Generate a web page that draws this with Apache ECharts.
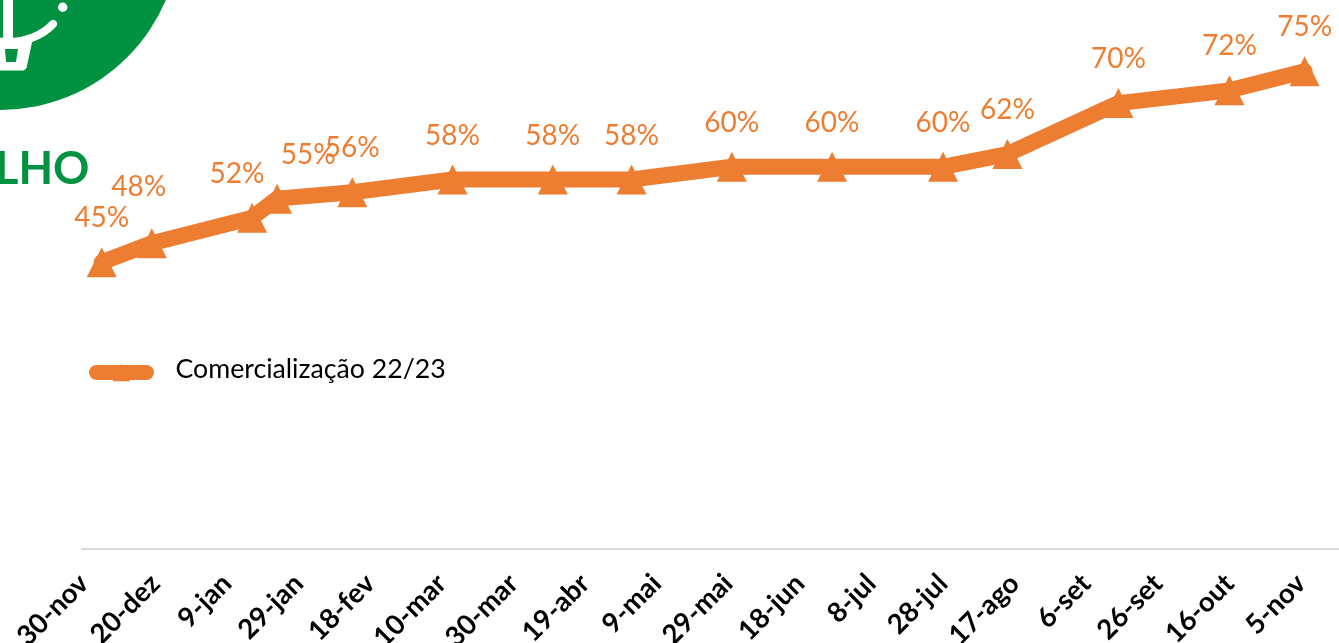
<!DOCTYPE html>
<html>
<head>
    <meta charset="utf-8">
    <title>Comercialização 22/23</title>
    <script src="https://cdn.jsdelivr.net/npm/echarts@6/dist/echarts.min.js"></script>
    <style type="text/css">
        *{margin: 0;padding: 0;}
        body{background: #fff;overflow: hidden;}
    </style>
</head>
<body>
<div id="main" style="width: 1339px;height: 643px;"></div>
<script type="text/javascript">
    // days since 30-nov, the x axis is a date axis with a label every 20 days
    var dayOffsets = [5, 19, 47, 54, 75, 103, 131, 153, 181, 209, 240, 258, 289, 320, 341];
    var values = [45, 48, 52, 55, 56, 58, 58, 58, 60, 60, 60, 62, 70, 72, 75];
    var tickDays = [0, 20, 40, 60, 80, 100, 120, 140, 160, 180, 200, 220, 240, 260, 280, 300, 320, 340];
    var tickLabels = ['30-nov','20-dez','9-jan','29-jan','18-fev','10-mar','30-mar','19-abr','9-mai','29-mai','18-jun','8-jul','28-jul','17-ago','6-set','26-set','16-out','5-nov'];
    var seriesName = 'Comercialização 22/23';
    var headingText = 'LHO';

    var ORANGE = '#ED7D31';
    var GREEN = '#009240';

    // labels the original moved by hand so they do not sit on the line
    var labelShift = {1: [-13, -12], 2: [-15, 0], 3: [31, 0]};

    var seriesData = [];
    for (var i = 0; i < values.length; i++) {
        var item = {value: [dayOffsets[i], values[i]]};
        if (labelShift[i]) {
            item.label = {offset: labelShift[i]};
        }
        seriesData.push(item);
    }

    var myChart = echarts.init(document.getElementById('main'));
    var option = {
        animation: false,
        backgroundColor: '#fff',
        legend: {
            left: 84,
            top: 351,
            itemWidth: 50,
            itemHeight: 22,
            itemGap: 0,
            lineStyle: {color: ORANGE, width: 15, cap: 'round'},
            formatter: '{a|{name}}',
            textStyle: {
                padding: [0, 0, 0, 24],
                rich: {
                    a: {
                        fontFamily: 'Lato',
                        fontSize: 26.7,
                        color: '#000',
                        padding: [0, 0, 6, 0]
                    }
                }
            },
            data: [seriesName]
        },
        grid: {
            left: 82,
            right: 0,
            top: 39.4,
            bottom: 94,
            outerBoundsMode: 'none'
        },
        xAxis: {
            type: 'value',
            min: -0.5,
            max: 350.6,
            splitLine: {show: false},
            axisTick: {show: false},
            axisLine: {
                lineStyle: {color: '#D9D9D9', width: 2}
            },
            axisLabel: {
                customValues: tickDays,
                rotate: 45,
                margin: 30,
                fontFamily: 'Lato',
                fontWeight: 'bold',
                fontSize: 27.5,
                color: '#000',
                formatter: function (value) {
                    return tickLabels[tickDays.indexOf(value)];
                }
            }
        },
        yAxis: {
            type: 'value',
            min: 0,
            max: 80,
            show: false,
            splitLine: {show: false}
        },
        graphic: [
            {
                type: 'circle',
                shape: {cx: 0, cy: -70, r: 180},
                style: {fill: GREEN},
                z: 1
            },
            {
                type: 'circle',
                shape: {cx: 62.7, cy: 7.3, r: 4.7},
                style: {fill: '#fff'},
                z: 2
            },
            {
                type: 'polyline',
                shape: {points: [[8, -2], [8, 40]]},
                style: {stroke: '#fff', lineWidth: 10, fill: null},
                z: 2
            },
            {
                type: 'bezierCurve',
                shape: {x1: 8, y1: 42, cpx1: 25, cpy1: 42, x2: 53, y2: 24, cpx2: 42, cpy2: 36},
                style: {stroke: '#fff', lineWidth: 8, lineCap: 'round', fill: null},
                z: 2
            },
            {
                type: 'polygon',
                shape: {points: [[-2, 38], [32, 40], [26, 68], [24, 70], [-2, 70]]},
                style: {fill: '#fff', stroke: '#fff', lineWidth: 1, lineJoin: 'round'},
                z: 2
            },
            {
                type: 'polygon',
                shape: {points: [[5, 49], [18, 49], [16, 62], [6, 62]]},
                style: {fill: GREEN},
                z: 3
            },
            {
                type: 'text',
                x: -5,
                y: 147,
                style: {
                    text: headingText,
                    fontFamily: 'Lato',
                    fontWeight: 'bold',
                    fontSize: 45,
                    fill: GREEN
                },
                z: 2
            }
        ],
        series: [
            {
                name: seriesName,
                type: 'line',
                symbol: 'triangle',
                symbolSize: 30,
                showAllSymbol: true,
                z: 3,
                lineStyle: {color: ORANGE, width: 16, cap: 'round'},
                itemStyle: {color: ORANGE},
                label: {
                    show: true,
                    position: 'top',
                    distance: 15,
                    fontFamily: 'Lato',
                    fontSize: 28,
                    color: ORANGE,
                    formatter: function (p) {
                        return p.value[1] + '%';
                    }
                },
                data: seriesData
            }
        ]
    };
    myChart.setOption(option);
</script>
</body>
</html>
